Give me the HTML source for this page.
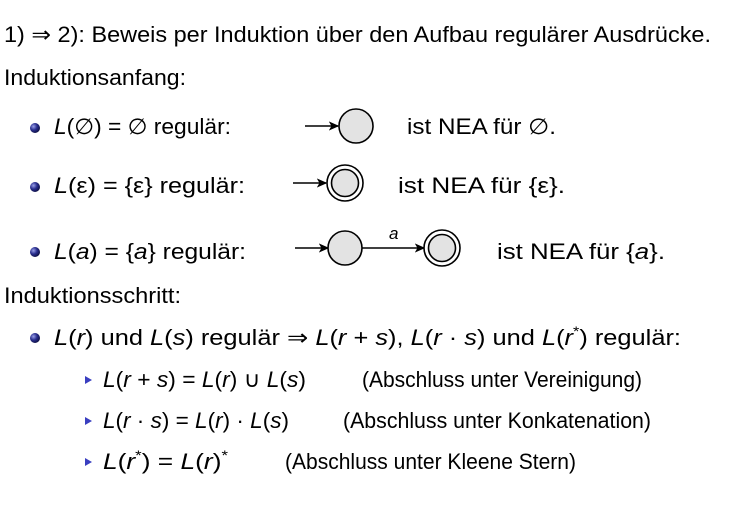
<!DOCTYPE html>
<html><head><meta charset="utf-8"><style>
html,body{margin:0;padding:0;background:#fff;width:739px;height:508px;overflow:hidden}
text{font-family:"Liberation Sans","DejaVu Sans",sans-serif;font-size:22px;fill:#000}
.i{font-style:italic}
</style></head><body>
<svg width="739" height="508" xmlns="http://www.w3.org/2000/svg">
<defs>
<radialGradient id="b" cx="35%" cy="35%" r="70%"><stop offset="0" stop-color="#9aa0e8"/><stop offset="0.5" stop-color="#2a2f8f"/><stop offset="1" stop-color="#0b0d40"/></radialGradient>
<marker id="ar" markerWidth="10" markerHeight="10" refX="9" refY="5" orient="auto" markerUnits="userSpaceOnUse"><path d="M1,1.5 L9,5 L1,8.5 L3,5 Z" fill="#000" stroke="#000" stroke-width="1"/></marker>
</defs>
<text x="4" y="42" textLength="707" lengthAdjust="spacingAndGlyphs">1) ⇒ 2): Beweis per Induktion über den Aufbau regulärer Ausdrücke.</text>
<text x="4" y="85" textLength="182" lengthAdjust="spacingAndGlyphs">Induktionsanfang:</text>
<circle cx="35" cy="128" r="5" fill="url(#b)"/>
<text x="54" y="134" textLength="177" lengthAdjust="spacingAndGlyphs"><tspan class="i">L</tspan>(∅) = ∅ regulär:</text>
<line x1="305" y1="126" x2="338" y2="126" stroke="#000" stroke-width="1.6" marker-end="url(#ar)"/>
<circle cx="356" cy="126" r="17" fill="#e3e3e3" stroke="#000" stroke-width="1.6"/>
<text x="407" y="134" textLength="149" lengthAdjust="spacingAndGlyphs">ist NEA für ∅.</text>
<circle cx="35" cy="187" r="5" fill="url(#b)"/>
<text x="54" y="193" textLength="191" lengthAdjust="spacingAndGlyphs"><tspan class="i">L</tspan>(ε) = {ε} regulär:</text>
<line x1="293" y1="183" x2="326" y2="183" stroke="#000" stroke-width="1.6" marker-end="url(#ar)"/>
<circle cx="345" cy="183" r="18" fill="#fff" stroke="#000" stroke-width="1.6"/>
<circle cx="345" cy="183" r="13.5" fill="#e3e3e3" stroke="#000" stroke-width="1.6"/>
<text x="398" y="193" textLength="167" lengthAdjust="spacingAndGlyphs">ist NEA für {ε}.</text>
<circle cx="35" cy="252" r="5" fill="url(#b)"/>
<text x="54" y="259" textLength="192" lengthAdjust="spacingAndGlyphs"><tspan class="i">L</tspan>(<tspan class="i">a</tspan>) = {<tspan class="i">a</tspan>} regulär:</text>
<line x1="295" y1="248" x2="328" y2="248" stroke="#000" stroke-width="1.6" marker-end="url(#ar)"/>
<circle cx="345" cy="248" r="17" fill="#e3e3e3" stroke="#000" stroke-width="1.6"/>
<line x1="362" y1="248" x2="424" y2="248" stroke="#000" stroke-width="1.6" marker-end="url(#ar)"/>
<text x="389" y="239" class="i" style="font-size:17px">a</text>
<circle cx="442" cy="248" r="18" fill="#fff" stroke="#000" stroke-width="1.6"/>
<circle cx="442" cy="248" r="13.5" fill="#e3e3e3" stroke="#000" stroke-width="1.6"/>
<text x="497" y="259" textLength="168" lengthAdjust="spacingAndGlyphs">ist NEA für {<tspan class="i">a</tspan>}.</text>
<text x="4" y="303" textLength="177" lengthAdjust="spacingAndGlyphs">Induktionsschritt:</text>
<circle cx="35" cy="338" r="5" fill="url(#b)"/>
<text x="54" y="345" textLength="627" lengthAdjust="spacingAndGlyphs"><tspan class="i">L</tspan>(<tspan class="i">r</tspan>) und <tspan class="i">L</tspan>(<tspan class="i">s</tspan>) regulär ⇒ <tspan class="i">L</tspan>(<tspan class="i">r</tspan> + <tspan class="i">s</tspan>), <tspan class="i">L</tspan>(<tspan class="i">r</tspan> · <tspan class="i">s</tspan>) und <tspan class="i">L</tspan>(<tspan class="i">r</tspan><tspan style="font-size:14px" dy="-9">*</tspan><tspan dy="9">) regulär:</tspan></text>
<path d="M85,376 L92,380 L85,384 Z" fill="#3a3fc0"/>
<text x="103" y="387" textLength="203" lengthAdjust="spacingAndGlyphs"><tspan class="i">L</tspan>(<tspan class="i">r</tspan> + <tspan class="i">s</tspan>) = <tspan class="i">L</tspan>(<tspan class="i">r</tspan>) ∪ <tspan class="i">L</tspan>(<tspan class="i">s</tspan>)</text>
<text x="362" y="387" textLength="280" lengthAdjust="spacingAndGlyphs">(Abschluss unter Vereinigung)</text>
<path d="M85,417 L92,421 L85,425 Z" fill="#3a3fc0"/>
<text x="103" y="428" textLength="186" lengthAdjust="spacingAndGlyphs"><tspan class="i">L</tspan>(<tspan class="i">r</tspan> · <tspan class="i">s</tspan>) = <tspan class="i">L</tspan>(<tspan class="i">r</tspan>) · <tspan class="i">L</tspan>(<tspan class="i">s</tspan>)</text>
<text x="343" y="428" textLength="308" lengthAdjust="spacingAndGlyphs">(Abschluss unter Konkatenation)</text>
<path d="M85,458 L92,462 L85,466 Z" fill="#3a3fc0"/>
<text x="103" y="469" textLength="125" lengthAdjust="spacingAndGlyphs"><tspan class="i">L</tspan>(<tspan class="i">r</tspan><tspan style="font-size:14px" dy="-9">*</tspan><tspan dy="9">) = </tspan><tspan class="i">L</tspan>(<tspan class="i">r</tspan>)<tspan style="font-size:14px" dy="-9">*</tspan></text>
<text x="285" y="469" textLength="291" lengthAdjust="spacingAndGlyphs">(Abschluss unter Kleene Stern)</text>
</svg>
</body></html>
